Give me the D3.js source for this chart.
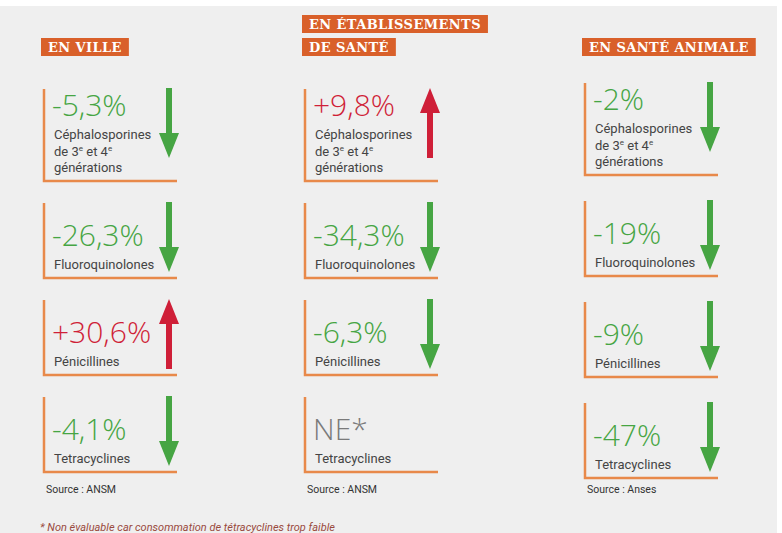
<!DOCTYPE html>
<html lang="fr">
<head>
<meta charset="utf-8">
<title>Consommation d'antibiotiques critiques</title>
<script src="https://d3js.org/d3.v7.min.js"></script>
<style>
  body { margin: 0; background: #ffffff; }
  .header text { font-family: "DejaVu Serif", serif; font-weight: bold; font-size: 13px; fill: #ffffff; letter-spacing: 0.4px; }
  .value { font-family: "Open Sans", Roboto, sans-serif; font-weight: 300; font-size: 30px; }
  .label { font-family: Roboto, "Open Sans", sans-serif; font-size: 13px; fill: #444444; }
  .source { font-family: Roboto, sans-serif; font-size: 10.5px; fill: #333333; }
  .note { font-family: Roboto, sans-serif; font-style: italic; font-size: 11px; fill: #9a4a3e; }
</style>
</head>
<body>
<div id="chart"></div>
<script>
// Data
const columns = ["ville", "etablissements", "animal"];
const headerLines = [["EN VILLE"], ["EN ÉTABLISSEMENTS", "DE SANTÉ"], ["EN SANTÉ ANIMALE"]];
const families = ["Céphalosporines", "Fluoroquinolones", "Pénicillines", "Tetracyclines"];
// label lines, "^" marks a superscript
const familyLabels = [["Céphalosporines", "de 3^e et 4^e", "générations"], ["Fluoroquinolones"], ["Pénicillines"], ["Tetracyclines"]];
const villeValues = [-5.3, -26.3, 30.6, -4.1];
const etablissementsValues = [9.8, -34.3, -6.3, null]; // null = NE*
const animalValues = [-2, -19, -9, -47];
const sources = ["ANSM", "ANSM", "Anses"];
const footnote = "* Non évaluable car consommation de tétracyclines trop faible";

const width = 782, height = 533;
const cardWidth = 133;
const orange = "#e8894a", green = "#46a543", red = "#cf1f38";

const valuesByColumn = [villeValues, etablissementsValues, animalValues];

const svg = d3.select("#chart").append("svg")
  .attr("width", width).attr("height", height);

svg.append("rect")
  .attr("x", 0).attr("y", 6)
  .attr("width", width - 5).attr("height", height - 6)
  .attr("fill", "#efefef");

// Scales
const xCol = d3.scaleOrdinal().domain(columns).range([44, 305, 585]);
const yRow = [
  d3.scalePoint().domain(families).range([181, 472]),
  d3.scalePoint().domain(families).range([181, 472]),
  d3.scalePoint().domain(families).range([175, 478])
];

const fr = d3.formatLocale({ decimal: ",", thousands: " ", grouping: [3], currency: ["", " €"], minus: "-" });
const fmt = v => (Number.isInteger(v) ? fr.format("+d")(v) : fr.format("+.1f")(v)) + "%";

// Headers
columns.forEach((c, i) => {
  const g = svg.append("g").attr("class", "header");
  const lines = headerLines[i];
  lines.forEach((line, j) => {
    const y = 38 - (lines.length - 1 - j) * 23;
    const rect = g.append("rect").attr("fill", "#d9602a");
    const t = g.append("text")
      .attr("x", xCol(c) + 4)
      .attr("y", y + 14)
      .text(line);
    const w = t.node().getComputedTextLength();
    rect.attr("x", xCol(c) - 3).attr("y", y)
      .attr("width", w + 14).attr("height", 18);
  });
});

// Arrow shape
function arrowPath(x, top, len, up) {
  const shaft = 3, head = 10, headLen = 25;
  const p = d3.path();
  if (up) {
    p.moveTo(x, top);
    p.lineTo(x + head, top + headLen);
    p.lineTo(x + shaft, top + headLen);
    p.lineTo(x + shaft, top + len);
    p.lineTo(x - shaft, top + len);
    p.lineTo(x - shaft, top + headLen);
    p.lineTo(x - head, top + headLen);
  } else {
    const b = top + len;
    p.moveTo(x - shaft, top);
    p.lineTo(x + shaft, top);
    p.lineTo(x + shaft, b - headLen);
    p.lineTo(x + head, b - headLen);
    p.lineTo(x, b);
    p.lineTo(x - head, b - headLen);
    p.lineTo(x - shaft, b - headLen);
  }
  p.closePath();
  return p.toString();
}

// Cards
columns.forEach((c, ci) => {
  const x0 = xCol(c);
  families.forEach((f, fi) => {
    const v = valuesByColumn[ci][fi];
    const bottom = yRow[ci](f);
    const lines = familyLabels[fi];
    const lastBase = bottom - 9;
    const firstBase = lastBase - (lines.length - 1) * 16.5;
    const valueBase = firstBase - 23;
    const top = Math.min(bottom - 75, valueBase - 27);
    const g = svg.append("g");

    g.append("path")
      .attr("d", `M${x0},${top}V${bottom}H${x0 + cardWidth}`)
      .attr("fill", "none")
      .attr("stroke", orange)
      .attr("stroke-width", 2.5);

    g.append("text")
      .attr("class", "value")
      .attr("x", x0 + 8)
      .attr("y", valueBase)
      .attr("fill", v === null ? "#7a7a7a" : (v > 0 ? red : green))
      .text(v === null ? "NE*" : fmt(v));

    lines.forEach((line, li) => {
      const t = g.append("text")
        .attr("class", "label")
        .attr("x", x0 + 10)
        .attr("y", firstBase + li * 16.5);
      line.split(/(\^e)/).forEach(part => {
        if (part === "^e") {
          t.append("tspan").attr("font-size", "8px").attr("baseline-shift", "5px").text("e");
        } else if (part) {
          t.append("tspan").text(part);
        }
      });
    });

    if (v !== null) {
      g.append("path")
        .attr("d", arrowPath(x0 + cardWidth - 8, top - 1, 70, v > 0))
        .attr("fill", v > 0 ? red : green);
    }
  });

  svg.append("text")
    .attr("class", "source")
    .attr("x", x0 + 2)
    .attr("y", 493)
    .text("Source : " + sources[ci]);
});

svg.append("text")
  .attr("class", "note")
  .attr("x", 40)
  .attr("y", 531)
  .text(footnote);
</script>
</body>
</html>
